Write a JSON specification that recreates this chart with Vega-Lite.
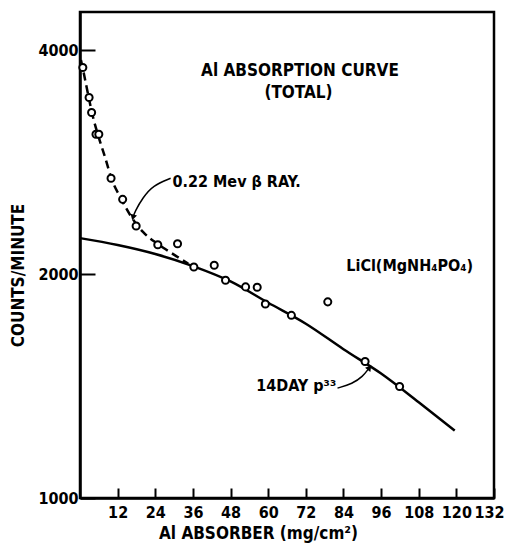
{
  "$schema": "https://vega.github.io/schema/vega-lite/v6.json",
  "width": 414,
  "height": 486,
  "autosize": {"type": "none"},
  "padding": {"left": 80, "top": 12, "right": 11, "bottom": 45},
  "background": "white",
  "config": {
    "view": {"stroke": "black", "strokeWidth": 2.5},
    "font": "Liberation Sans Narrow, DejaVu Sans Condensed, DejaVu Sans",
    "axis": {
      "grid": false,
      "domainColor": "black",
      "domainWidth": 2.5,
      "tickColor": "black",
      "tickWidth": 2,
      "labelColor": "black",
      "titleColor": "black",
      "labelFont": "Liberation Sans Narrow, DejaVu Sans Condensed, DejaVu Sans",
      "titleFont": "Liberation Sans Narrow, DejaVu Sans Condensed, DejaVu Sans",
      "labelFontWeight": "bold",
      "titleFontWeight": "bold",
      "labelFontSize": 16,
      "titleFontSize": 17
    }
  },
  "datasets": {
    "points": [
      {"x": 0.9, "y": 3790}, {"x": 2.9, "y": 3454}, {"x": 3.7, "y": 3297},
      {"x": 5.1, "y": 3083}, {"x": 6.0, "y": 3083}, {"x": 9.9, "y": 2690},
      {"x": 13.6, "y": 2520}, {"x": 17.9, "y": 2320}, {"x": 24.8, "y": 2190},
      {"x": 31.1, "y": 2196}, {"x": 36.3, "y": 2044}, {"x": 42.8, "y": 2055},
      {"x": 46.4, "y": 1962}, {"x": 52.8, "y": 1922}, {"x": 56.5, "y": 1920},
      {"x": 59.1, "y": 1823}, {"x": 67.4, "y": 1760}, {"x": 79.0, "y": 1835},
      {"x": 90.9, "y": 1526}, {"x": 101.9, "y": 1412}
    ],
    "solid": [
      {"x": 0, "y": 2235}, {"x": 12, "y": 2188}, {"x": 24, "y": 2128},
      {"x": 36, "y": 2050}, {"x": 48, "y": 1955}, {"x": 60, "y": 1830},
      {"x": 72, "y": 1715}, {"x": 84, "y": 1585}, {"x": 96, "y": 1470},
      {"x": 108, "y": 1345}, {"x": 119.5, "y": 1232}
    ],
    "dashed": [
      {"x": 0.3, "y": 3880}, {"x": 1, "y": 3760}, {"x": 2.5, "y": 3500},
      {"x": 4, "y": 3270}, {"x": 6, "y": 3050}, {"x": 8, "y": 2870},
      {"x": 10, "y": 2690}, {"x": 13, "y": 2530}, {"x": 16, "y": 2400},
      {"x": 20, "y": 2280}, {"x": 24.8, "y": 2195}, {"x": 28, "y": 2150},
      {"x": 31, "y": 2110}, {"x": 34.5, "y": 2065}
    ],
    "arrows": [
      {"arrow": "beta", "i": 1, "x": 28.9, "y": 2690},
      {"arrow": "beta", "i": 2, "x": 23.2, "y": 2630},
      {"arrow": "beta", "i": 3, "x": 20.1, "y": 2535},
      {"arrow": "beta", "i": 4, "x": 17.5, "y": 2428},
      {"arrow": "beta", "i": 5, "x": 16.9, "y": 2383},
      {"arrow": "p33", "i": 1, "x": 82.1, "y": 1405},
      {"arrow": "p33", "i": 2, "x": 86.9, "y": 1425},
      {"arrow": "p33", "i": 3, "x": 90.1, "y": 1455},
      {"arrow": "p33", "i": 4, "x": 92.3, "y": 1497}
    ],
    "heads": [
      {"arrow": "beta", "x": 16.9, "y": 2383},
      {"arrow": "p33", "x": 92.3, "y": 1497}
    ],
    "labels": [
      {"x": 38.6, "y": 3750, "size": "big", "text": "Al  ABSORPTION  CURVE"},
      {"x": 58.8, "y": 3500, "size": "big", "text": "(TOTAL)"},
      {"x": 29.5, "y": 2655, "size": "small", "text": "0.22 Mev   β RAY."},
      {"x": 84.9, "y": 2050, "size": "small", "text": "LiCl(MgNH₄PO₄)"},
      {"x": 56.2, "y": 1416, "size": "small", "text": "14DAY   p³³"}
    ]
  },
  "encoding": {
    "x": {
      "field": "x", "type": "quantitative",
      "scale": {"domain": [0, 132], "nice": false, "zero": false},
      "axis": {
        "title": "Al ABSORBER (mg/cm²)",
        "values": [12, 24, 36, 48, 60, 72, 84, 96, 108, 120, 132],
        "tickSize": -10,
        "labelPadding": 16,
        "labelOffset": {"condition": {"test": "datum.value == 132", "value": -5}, "value": 0},
        "titlePadding": 5,
        "titleX": 178,
        "labelFlush": false
      }
    },
    "y": {
      "field": "y", "type": "quantitative",
      "scale": {"type": "log", "domain": [1000, 4500], "nice": false},
      "axis": {
        "title": "COUNTS/MINUTE",
        "values": [1000, 2000, 4000],
        "format": "d",
        "tickSize": -15,
        "labelPadding": 17,
        "titlePadding": 10,
        "titleY": 263
      }
    }
  },
  "layer": [
    {
      "data": {"name": "solid"},
      "mark": {"type": "line", "color": "black", "strokeWidth": 2.5, "interpolate": "monotone"}
    },
    {
      "data": {"name": "dashed"},
      "mark": {"type": "line", "color": "black", "strokeWidth": 2.5, "strokeDash": [8, 5], "interpolate": "monotone"}
    },
    {
      "data": {"name": "points"},
      "mark": {"type": "point", "shape": "circle", "filled": false, "fill": "white", "fillOpacity": 1, "stroke": "black", "strokeWidth": 2, "size": 50, "opacity": 1}
    },
    {
      "data": {"name": "arrows"},
      "mark": {"type": "line", "color": "black", "strokeWidth": 1.5, "interpolate": "basis"},
      "encoding": {
        "detail": {"field": "arrow"},
        "order": {"field": "i", "type": "quantitative"}
      }
    },
    {
      "data": {"name": "heads"},
      "transform": [{"filter": "datum.arrow == 'beta'"}],
      "mark": {"type": "point", "shape": "triangle-down", "filled": true, "color": "black", "size": 45, "angle": 15, "opacity": 1}
    },
    {
      "data": {"name": "heads"},
      "transform": [{"filter": "datum.arrow == 'p33'"}],
      "mark": {"type": "point", "shape": "triangle-up", "filled": true, "color": "black", "size": 45, "angle": 38, "opacity": 1}
    },
    {
      "data": {"name": "labels"},
      "transform": [{"filter": "datum.size == 'big'"}],
      "mark": {"type": "text", "align": "left", "baseline": "middle", "fontSize": 17, "fontWeight": "bold", "color": "black", "font": "Liberation Sans Narrow, DejaVu Sans Condensed, DejaVu Sans"},
      "encoding": {"text": {"field": "text"}}
    },
    {
      "data": {"name": "labels"},
      "transform": [{"filter": "datum.size == 'small'"}],
      "mark": {"type": "text", "align": "left", "baseline": "middle", "fontSize": 16, "fontWeight": "bold", "color": "black", "font": "Liberation Sans Narrow, DejaVu Sans Condensed, DejaVu Sans"},
      "encoding": {"text": {"field": "text"}}
    }
  ]
}
